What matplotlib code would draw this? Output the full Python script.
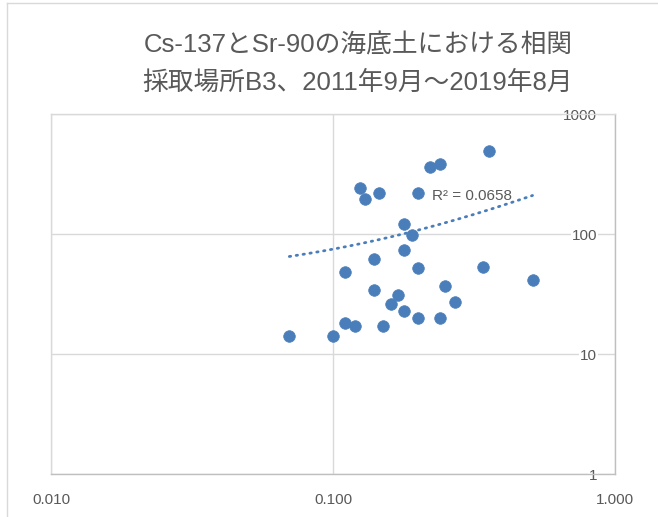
import numpy as np
import matplotlib
matplotlib.use("Agg")
import matplotlib.pyplot as plt
from matplotlib.ticker import FixedLocator, FixedFormatter, NullLocator
from matplotlib.lines import Line2D

# Sr-90 (x) と Cs-137 (y) の読み取り値
sr90 = [0.358, 0.240, 0.220, 0.125, 0.130, 0.145, 0.200, 0.179, 0.190, 0.179,
        0.140, 0.200, 0.340, 0.110, 0.510, 0.250, 0.140, 0.170, 0.270, 0.160,
        0.179, 0.200, 0.240, 0.110, 0.120, 0.150, 0.070, 0.100]
cs137 = [490, 383, 360, 240, 196, 220, 220, 120, 99, 74,
         62, 52, 53, 48, 41, 37, 34, 31, 27, 26,
         23, 20, 20, 18, 17, 17, 14, 14]

x_ticks = [0.01, 0.1, 1.0]
x_labels = ["0.010", "0.100", "1.000"]
y_ticks = [1, 10, 100, 1000]
y_labels = ["1", "10", "100", "1000"]

titulo = "Cs-137とSr-90の海底土における相関\n採取場所B3、2011年9月～2019年8月"
r2_text = "R² = 0.0658"

azul = "#4a7ebb"
gris_txt = "#595959"
gris_grid = "#d9d9d9"
gris_eje = "#bfbfbf"

fuentes = ["Liberation Sans", "Noto Sans CJK JP"]
plt.rcParams["font.family"] = fuentes

W, H = 658, 517
fig = plt.figure(figsize=(W / 100, H / 100), dpi=100)
ax = fig.add_axes([51 / W, 1 - 474 / H, (615 - 51) / W, (474 - 114) / H])

x = np.array(sr90)
y = np.array(cs137)

# tendencia lineal (Excel) sobre ejes log
b, a = np.polyfit(x, y, 1)
xt = np.linspace(x.min(), x.max(), 200)
ax.plot(xt, a + b * xt, color=azul, lw=2.0, linestyle=(0, (0.5, 2.0)),
        dash_capstyle="round", zorder=2)

ax.scatter(x, y, s=70, color=azul, edgecolors=azul, linewidths=0.5, zorder=3)

ax.set_xscale("log")
ax.set_yscale("log")
ax.set_xlim(0.01, 1.0)
ax.set_ylim(1, 1000)

ax.xaxis.set_major_locator(FixedLocator(x_ticks))
ax.xaxis.set_major_formatter(FixedFormatter(x_labels))
ax.xaxis.set_minor_locator(NullLocator())
ax.yaxis.set_major_locator(FixedLocator(y_ticks))
ax.yaxis.set_major_formatter(FixedFormatter(y_labels))
ax.yaxis.set_minor_locator(NullLocator())

ax.grid(True, which="major", color=gris_grid, lw=1.0)
ax.set_axisbelow(True)

for lado in ["left", "top"]:
    ax.spines[lado].set_color(gris_grid)
for lado in ["right", "bottom"]:
    ax.spines[lado].set_color(gris_eje)
for s in ax.spines.values():
    s.set_linewidth(1.0)

ax.tick_params(axis="x", length=0, pad=14, labelsize=11, labelcolor=gris_txt)
ax.yaxis.tick_right()
ax.tick_params(axis="y", length=0, pad=-13, labelsize=11, labelcolor=gris_txt)
for lab in ax.get_yticklabels():
    lab.set_horizontalalignment("right")
    lab.set_bbox(dict(facecolor="white", edgecolor="none", pad=0.5))

fig.text(358 / W, 1 - 64 / H, titulo, ha="center", va="center",
         fontsize=18.5, color=gris_txt, linespacing=1.65, family=fuentes)

fig.text(432 / W, 1 - 196 / H, r2_text, ha="left", va="center",
         fontsize=11, color=gris_txt, family=fuentes)

# marco del gráfico
fig.add_artist(Line2D([6.5 / W, 6.5 / W], [0, 1 - 2.5 / H], color=gris_grid, lw=1.0))
fig.add_artist(Line2D([6.5 / W, 1], [1 - 2.5 / H, 1 - 2.5 / H], color=gris_grid, lw=1.0))

fig.savefig("out.png", dpi=100, facecolor="white")
